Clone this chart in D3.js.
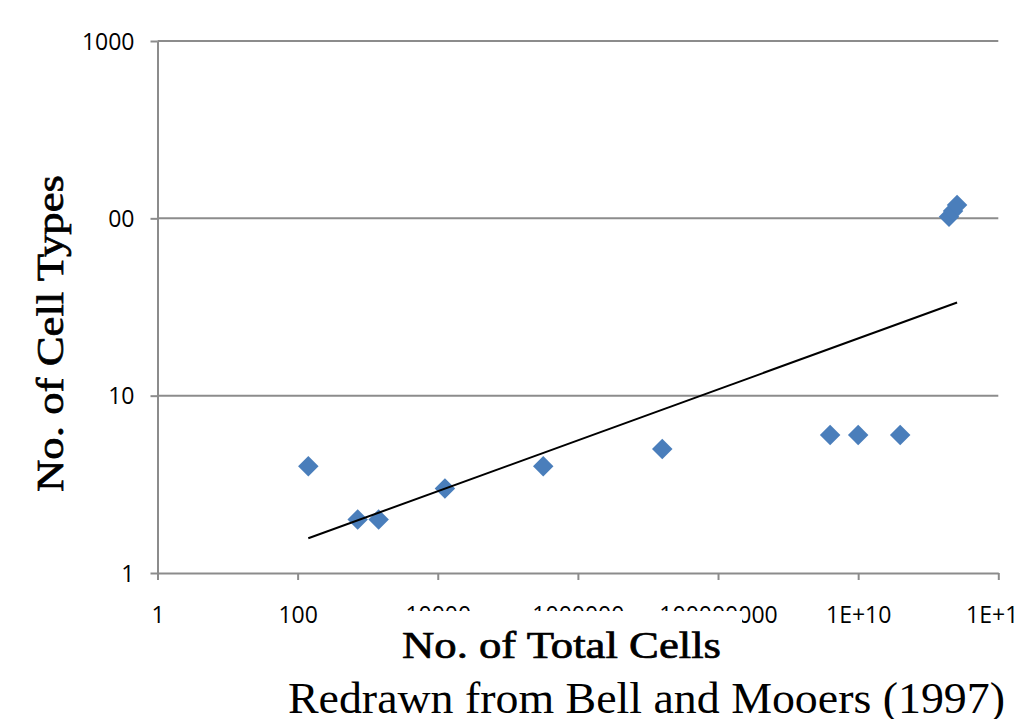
<!DOCTYPE html>
<html>
<head>
<meta charset="utf-8">
<script src="https://cdn.jsdelivr.net/npm/d3@7"></script>
<style>
  body { margin: 0; background: #fff; }
  svg { display: block; }
  .tick-label { font-family: "Open Sans", sans-serif; font-size: 23px; fill: #000; }
  .title { font-family: "Liberation Serif", serif; font-size: 38px; fill: #000; stroke: #000; stroke-width: 0.7px; }
  .credit { font-family: "Liberation Serif", serif; font-size: 45px; fill: #000; }
</style>
</head>
<body>
<svg id="chart" width="1018" height="719"></svg>
<script>
// data
let total_cells = [142, 719, 1433, 12650, 320000, 1.6e7, 3.98e9, 1e10, 3.98e10, 1.98e11, 2.26e11, 2.58e11]
let cell_types = [4, 2, 2, 3, 4, 5, 6, 6, 6, 102, 110, 119]

// power trendline end points (straight in log-log)
let trend_cells = [142, 2.58e11]
let trend_types = [1.57, 33.5]

let x_ticks = [1, 100, 1e4, 1e6, 1e8, 1e10, 1e12]
let x_tick_labels = ["1", "100", "10000", "1000000", "100000000", "1E+10", "1E+12"]
let y_ticks = [1, 10, 100, 1000]
let y_tick_labels = ["1", "10", "100", "1000"]

let x_title = "No. of Total Cells"
let y_title = "No. of Cell Types"
let credit = "Redrawn from Bell and Mooers (1997)"

let grid_color = "#8c8c8c"
let point_color = "#4a7ebb"

let svg = d3.select('#chart')

let x = d3.scaleLog().domain([1, 1e12]).range([157.5, 998.3])
let y = d3.scaleLog().domain([1, 1000]).range([573, 41])

// credit line sits under the chart area, its top gets cut by the chart box
svg.append('text').attr('class', 'credit')
    .attr('x', 288).attr('y', 713)
    .attr('textLength', 717).attr('lengthAdjust', 'spacingAndGlyphs')
    .text(credit)

svg.append('rect').attr('x', 0).attr('y', 0).attr('width', 1018).attr('height', 680).attr('fill', '#fff')

// horizontal gridlines
svg.append('g').selectAll('line')
    .data(y_ticks.slice(1))
    .join('line')
    .attr('x1', x.range()[0]).attr('x2', x.range()[1])
    .attr('y1', d => y(d)).attr('y2', d => y(d))
    .attr('stroke', grid_color).attr('stroke-width', 2)

// y axis
let y_axis = svg.append('g').attr('transform', `translate(${x.range()[0]},0)`)
    .call(d3.axisLeft(y).tickValues(y_ticks).tickSize(7).tickSizeOuter(0)
        .tickFormat((d, i) => y_tick_labels[i]))
y_axis.select('.domain').attr('stroke', grid_color).attr('stroke-width', 2)
y_axis.selectAll('.tick line').attr('stroke', grid_color).attr('stroke-width', 2)
y_axis.selectAll('.tick text').attr('class', 'tick-label').attr('x', -23).attr('dy', '0.36em')

// x axis
let x_axis = svg.append('g').attr('transform', `translate(0,${y.range()[0]})`)
    .call(d3.axisBottom(x).tickValues(x_ticks).tickSize(7).tickSizeOuter(0)
        .tickFormat((d, i) => x_tick_labels[i]))
x_axis.select('.domain').attr('stroke', grid_color).attr('stroke-width', 2)
x_axis.selectAll('.tick line').attr('stroke', grid_color).attr('stroke-width', 2)
x_axis.selectAll('.tick text').attr('class', 'tick-label').attr('y', 50).attr('dy', 0)

// points
let diamond = d3.symbol().type(d3.symbolSquare).size(210)
svg.append('g').selectAll('path')
    .data(total_cells.map((c, i) => ({ cells: c, types: cell_types[i] })))
    .join('path')
    .attr('d', diamond)
    .attr('transform', d => `translate(${x(d.cells)},${y(d.types)}) rotate(45)`)
    .attr('fill', point_color)

// trendline
svg.append('path')
    .datum(trend_cells.map((c, i) => [c, trend_types[i]]))
    .attr('d', d3.line().x(d => x(d[0])).y(d => y(d[1])))
    .attr('fill', 'none').attr('stroke', '#000').attr('stroke-width', 2)

// axis titles with white boxes (they cover parts of the tick labels)
svg.append('rect').attr('x', 395).attr('y', 611).attr('width', 347).attr('height', 62).attr('fill', '#fff')
svg.append('text').attr('class', 'title')
    .attr('x', 402).attr('y', 658)
    .attr('textLength', 319).attr('lengthAdjust', 'spacingAndGlyphs')
    .text(x_title)

// the y title box hides the leading "1" of the 100 label
let label_100 = y_axis.selectAll('.tick text').filter(d => d == 100).node().getBBox()
let box_right = x.range()[0] + label_100.x + label_100.width * 0.3
svg.append('rect').attr('x', 28).attr('y', 165).attr('width', box_right - 28).attr('height', 337).attr('fill', '#fff')
svg.append('text').attr('class', 'title')
    .attr('transform', 'translate(63,492) rotate(-90)')
    .attr('textLength', 317).attr('lengthAdjust', 'spacingAndGlyphs')
    .text(y_title)
</script>
</body>
</html>
